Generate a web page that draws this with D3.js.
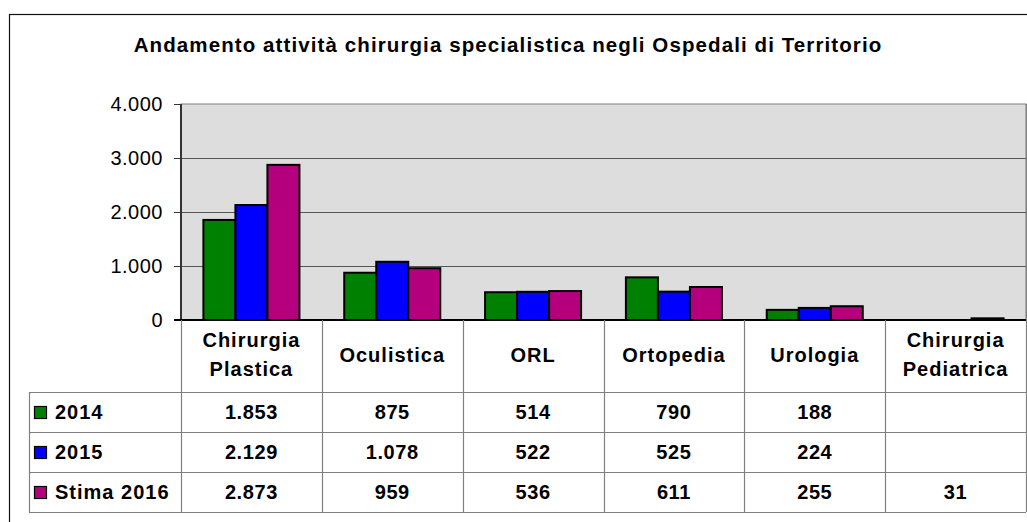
<!DOCTYPE html>
<html>
<head>
<meta charset="utf-8">
<script src="https://cdn.jsdelivr.net/npm/d3@7"></script>
<style>
  body { margin: 0; background: #fff; }
  svg text { font-family: "Liberation Sans", Arial, sans-serif; }
</style>
</head>
<body>
<svg id="chart" width="1027" height="522"></svg>
<script>
// Chart data
const categories = ["Chirurgia Plastica", "Oculistica", "ORL", "Ortopedia", "Urologia", "Chirurgia Pediatrica"];
const categoryLines = [["Chirurgia", "Plastica"], ["Oculistica"], ["ORL"], ["Ortopedia"], ["Urologia"], ["Chirurgia", "Pediatrica"]];
const seriesNames = ["2014", "2015", "Stima 2016"];
const values2014 = [1853, 875, 514, 790, 188, null];
const values2015 = [2129, 1078, 522, 525, 224, null];
const values2016 = [2873, 959, 536, 611, 255, 31];
const yTicks = [0, 1000, 2000, 3000, 4000];

const seriesValues = [values2014, values2015, values2016];
const colors = ["#008000", "#0000ff", "#b4007c"];

const itLocale = d3.formatLocale({ decimal: ",", thousands: ".", grouping: [3], currency: ["€", ""] });
const fmt = itLocale.format(",d");

const svg = d3.select("#chart");

// layout
const plotLeft = 181, plotRight = 1026, plotTop = 104, plotBottom = 320;
const tableLeft = 29;

const x = d3.scaleBand().domain(categories).range([plotLeft, plotRight]).padding(0);
const x1 = d3.scaleBand().domain(seriesNames).range([0, x.bandwidth()]).paddingInner(0).paddingOuter(0.7);
const y = d3.scaleLinear().domain([0, 4000]).range([plotBottom, plotTop]);
const rowY = d3.scaleBand().domain(seriesNames).range([392, 512]);

// outer frame
svg.append("rect")
    .attr("x", 9.5).attr("y", 14.5)
    .attr("width", 1100).attr("height", 600)
    .attr("fill", "none").attr("stroke", "#111").attr("stroke-width", 1.2);

// title
svg.append("text")
    .attr("x", 508).attr("y", 52)
    .attr("text-anchor", "middle")
    .style("font-size", "20.5px").style("font-weight", "bold")
    .style("letter-spacing", "1.1px")
    .text("Andamento attività chirurgia specialistica negli Ospedali di Territorio");

// plot background
svg.append("rect")
    .attr("x", plotLeft).attr("y", plotTop)
    .attr("width", plotRight - plotLeft).attr("height", plotBottom - plotTop)
    .attr("fill", "#dddddd").attr("stroke", "#808080").attr("stroke-width", 1);

// grid lines
svg.append("g")
    .selectAll("line")
    .data(yTicks.filter(d => d > 0 && d < 4000))
    .join("line")
    .attr("x1", plotLeft).attr("x2", plotRight)
    .attr("y1", d => Math.round(y(d)) + 0.5).attr("y2", d => Math.round(y(d)) + 0.5)
    .attr("stroke", "#555").attr("stroke-width", 1);

// bars
const bars = [];
categories.forEach((c, i) => {
    seriesNames.forEach((s, j) => {
        if (seriesValues[j][i] != null) bars.push({ cat: c, series: s, value: seriesValues[j][i], color: colors[j] });
    });
});

svg.append("g")
    .selectAll("rect")
    .data(bars)
    .join("rect")
    .attr("x", d => x(d.cat) + x1(d.series))
    .attr("y", d => y(d.value))
    .attr("width", x1.bandwidth())
    .attr("height", d => plotBottom - y(d.value))
    .attr("fill", d => d.color)
    .attr("stroke", "#000")
    .attr("stroke-width", 2);

// y axis
const yAxis = svg.append("g")
    .attr("transform", `translate(${plotLeft},0)`)
    .call(d3.axisLeft(y).tickValues(yTicks).tickSize(7).tickPadding(11).tickFormat(fmt));
yAxis.select(".domain").remove();
yAxis.selectAll(".tick line").attr("stroke", "#333");
yAxis.selectAll(".tick text")
    .style("font-size", "20px").attr("fill", "#000")
    .style("letter-spacing", "0.5px")
    .attr("font-family", "Liberation Sans, Arial, sans-serif");

svg.append("line")
    .attr("x1", plotLeft).attr("x2", plotLeft)
    .attr("y1", plotTop).attr("y2", plotBottom)
    .attr("stroke", "#333").attr("stroke-width", 2);

// zero line
svg.append("line")
    .attr("x1", plotLeft - 7).attr("x2", plotRight)
    .attr("y1", plotBottom).attr("y2", plotBottom)
    .attr("stroke", "#000").attr("stroke-width", 2);

// data table
const table = svg.append("g");
const gridColor = "#808080";

// horizontal lines
rowY.domain().forEach(s => {
    table.append("line")
        .attr("x1", tableLeft).attr("x2", plotRight)
        .attr("y1", rowY(s) + 0.5).attr("y2", rowY(s) + 0.5)
        .attr("stroke", gridColor).attr("stroke-width", 1.2);
});
table.append("line")
    .attr("x1", tableLeft).attr("x2", plotRight)
    .attr("y1", rowY.range()[1] + 0.5).attr("y2", rowY.range()[1] + 0.5)
    .attr("stroke", gridColor).attr("stroke-width", 1.2);

// vertical lines
table.append("line")
    .attr("x1", tableLeft + 0.5).attr("x2", tableLeft + 0.5)
    .attr("y1", rowY.range()[0]).attr("y2", rowY.range()[1])
    .attr("stroke", gridColor).attr("stroke-width", 1.2);
categories.concat([null]).forEach((c, i) => {
    const xx = c ? x(c) : plotRight;
    table.append("line")
        .attr("x1", Math.round(xx) + 0.5).attr("x2", Math.round(xx) + 0.5)
        .attr("y1", c ? plotBottom : plotTop).attr("y2", rowY.range()[1])
        .attr("stroke", gridColor).attr("stroke-width", 1.2);
});

// category labels
categories.forEach((c, i) => {
    const lines = categoryLines[i];
    const cx = x(c) + x.bandwidth() / 2;
    const t = table.append("text")
        .attr("x", cx)
        .attr("text-anchor", "middle")
        .style("font-size", "20px").style("font-weight", "bold")
        .style("letter-spacing", "1px");
    if (lines.length === 1) {
        t.attr("y", 362).text(lines[0]);
    } else {
        lines.forEach((ln, k) => {
            t.append("tspan").attr("x", cx).attr("y", 347 + k * 29).text(ln);
        });
    }
});

// legend keys + values
seriesNames.forEach((s, j) => {
    const cy = rowY(s) + rowY.bandwidth() / 2;
    table.append("rect")
        .attr("x", 34.5).attr("y", cy - 5.5)
        .attr("width", 12).attr("height", 12)
        .attr("fill", colors[j]).attr("stroke", "#000").attr("stroke-width", 1.2);
    table.append("text")
        .attr("x", 55).attr("y", cy + 7)
        .style("font-size", "20px").style("font-weight", "bold")
        .style("letter-spacing", "1px")
        .text(s);
    categories.forEach((c, i) => {
        const v = seriesValues[j][i];
        if (v == null) return;
        table.append("text")
            .attr("x", x(c) + x.bandwidth() / 2).attr("y", cy + 7)
            .attr("text-anchor", "middle")
            .style("font-size", "20px").style("font-weight", "bold")
            .style("letter-spacing", "0.6px")
            .text(fmt(v));
    });
});
</script>
</body>
</html>
